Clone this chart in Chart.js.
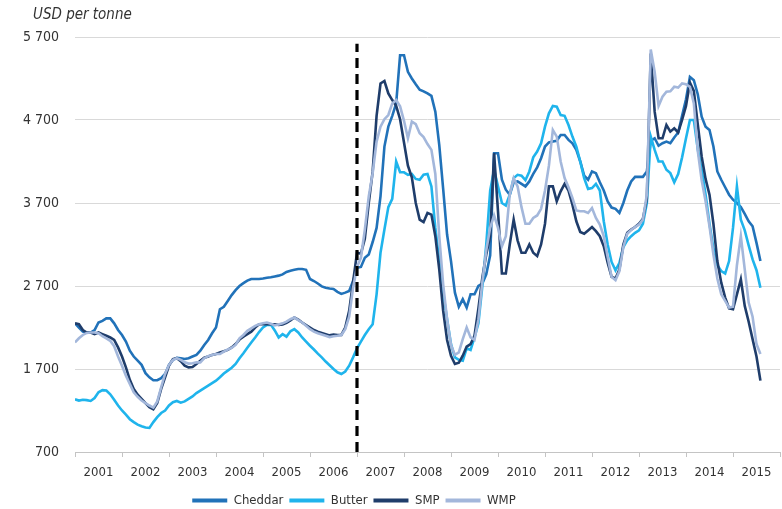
<!DOCTYPE html>
<html>
<head>
<meta charset="utf-8">
<script src="https://cdn.jsdelivr.net/npm/chart.js@4.4.0/dist/chart.umd.min.js"></script>
<style>
  html, body { margin: 0; padding: 0; background: #ffffff; }
  #wrap { width: 782px; height: 509px; }
</style>
</head>
<body>
<div id="wrap"><canvas id="c" width="782" height="509"></canvas></div>
<script>
// ---- Data (monthly, Jan 2001 – Aug 2015), USD per tonne ----
const startYear = 2001;
const seriesNames = ["Cheddar", "Butter", "SMP", "WMP"];
const yearTicks = ["2001","2002","2003","2004","2005","2006","2007","2008","2009","2010","2011","2012","2013","2014","2015"];
const dividerYear = 2007;   // dashed vertical marker
const dividerTop = 5620;

const cheddar = [
  2250,2200,2150,2140,2140,2170,2260,2280,2310,2310,2250,2170,
  2110,2030,1920,1850,1800,1750,1650,1600,1565,1565,1590,1640,
  1750,1810,1835,1830,1820,1830,1850,1870,1920,1990,2050,2130,
  2200,2420,2450,2520,2590,2650,2700,2735,2765,2785,2785,2785,
  2790,2800,2805,2815,2825,2840,2870,2885,2895,2905,2905,2895,
  2785,2760,2730,2695,2680,2670,2665,2630,2605,2620,2640,2760,
  2920,2930,3040,3080,3230,3400,3780,4380,4620,4750,4900,5480,
  5480,5280,5200,5130,5065,5045,5020,4990,4800,4400,3870,3320,
  3000,2620,2450,2540,2440,2600,2600,2700,2730,2840,3070,4300,
  4300,3980,3860,3800,3950,3960,3930,3900,3960,4050,4130,4240,
  4380,4430,4440,4450,4520,4520,4460,4420,4340,4200,4030,3980,
  4080,4060,3950,3850,3720,3645,3630,3580,3700,3850,3960,4015,
  4015,4015,4080,4450,4480,4390,4420,4440,4420,4490,4550,4750,
  4950,5220,5180,5010,4740,4620,4580,4380,4080,3980,3890,3800,
  3740,3700,3650,3570,3480,3420,3220,3000
];
const butter = [
  1335,1320,1330,1325,1315,1350,1420,1445,1440,1395,1330,1260,
  1200,1150,1095,1060,1030,1010,995,990,1060,1120,1170,1200,
  1260,1300,1315,1295,1310,1340,1370,1410,1440,1470,1500,1530,
  1560,1600,1645,1680,1715,1760,1830,1890,1955,2020,2080,2145,
  2200,2230,2235,2165,2080,2120,2090,2155,2180,2140,2080,2030,
  1980,1935,1885,1840,1790,1745,1700,1660,1640,1670,1740,1840,
  1950,2030,2110,2180,2240,2600,3100,3380,3650,3750,4200,4070,
  4070,4040,4050,3990,3980,4040,4050,3900,3400,3000,2620,2300,
  2000,1840,1810,1800,1950,1930,2080,2250,2700,3200,3850,4100,
  3900,3700,3670,3800,4000,4040,4030,3975,4080,4250,4320,4420,
  4620,4780,4870,4860,4760,4750,4640,4500,4380,4200,4000,3870,
  3880,3930,3850,3480,3200,2990,2890,2980,3170,3250,3300,3340,
  3370,3450,3700,4500,4340,4200,4200,4100,4060,3950,4050,4250,
  4480,4700,4700,4350,4100,3800,3450,3150,2950,2880,2850,3000,
  3400,3900,3500,3370,3190,3020,2890,2680
];
const smp = [
  2250,2240,2170,2140,2140,2120,2140,2120,2100,2080,2050,1960,
  1850,1720,1570,1460,1390,1340,1290,1240,1215,1290,1460,1600,
  1740,1820,1830,1795,1740,1720,1725,1760,1800,1835,1850,1870,
  1880,1900,1915,1930,1960,2000,2055,2090,2120,2150,2200,2240,
  2240,2240,2240,2240,2230,2235,2255,2285,2320,2295,2260,2230,
  2200,2170,2150,2135,2120,2105,2115,2110,2110,2200,2400,2750,
  3100,3090,3270,3700,4080,4750,5140,5170,5020,4940,4870,4710,
  4430,4150,4010,3700,3500,3470,3580,3560,3300,2900,2400,2050,
  1860,1760,1775,1860,1970,2000,2100,2430,2800,3080,3300,4300,
  3600,2850,2850,3200,3500,3250,3100,3100,3200,3100,3060,3200,
  3450,3900,3900,3720,3840,3930,3850,3680,3480,3350,3330,3370,
  3410,3360,3300,3180,2980,2810,2790,2900,3200,3340,3380,3410,
  3450,3510,3750,5500,4800,4480,4480,4640,4560,4600,4550,4700,
  4870,5150,5050,4650,4260,3990,3800,3450,3000,2740,2560,2430,
  2420,2600,2780,2460,2270,2060,1850,1560
];
const wmp = [
  2020,2070,2110,2135,2140,2140,2130,2095,2070,2040,1975,1850,
  1740,1620,1520,1420,1365,1320,1290,1260,1235,1310,1480,1640,
  1750,1810,1830,1810,1780,1765,1770,1780,1780,1830,1855,1870,
  1880,1880,1910,1935,1955,1990,2070,2110,2160,2190,2220,2240,
  2250,2260,2245,2225,2235,2250,2270,2300,2320,2290,2260,2220,
  2180,2150,2130,2115,2100,2085,2095,2100,2110,2180,2330,2680,
  2930,3040,3380,3780,4060,4440,4620,4710,4760,4900,4940,4865,
  4690,4480,4680,4650,4540,4495,4410,4340,4050,3300,2720,2300,
  1990,1870,1900,2060,2200,2080,2050,2300,2750,3130,3400,3550,
  3400,3180,3300,3800,4000,3900,3650,3450,3450,3520,3550,3630,
  3850,4150,4580,4500,4200,4000,3890,3760,3610,3600,3600,3580,
  3640,3520,3440,3300,3050,2810,2770,2880,3170,3330,3375,3410,
  3440,3500,3800,5550,5280,4870,4980,5040,5045,5100,5090,5140,
  5130,5100,4900,4330,3975,3720,3420,3080,2790,2600,2520,2440,
  2450,2950,3300,2900,2500,2330,2000,1880
];

// ---- build datasets ----
const colors = ["#2172b9", "#1fb4ec", "#1f3d6b", "#a3b7db"];
const values = [cheddar, butter, smp, wmp];
const drawOrder = [3, 2, 1, 0];
const toPoints = arr => arr.map((v, i) => ({ x: startYear + i / 12, y: v }));

const datasets = values.map((arr, i) => ({
  label: seriesNames[i],
  data: toPoints(arr),
  borderColor: colors[i],
  backgroundColor: colors[i],
  borderWidth: 2.6,
  pointRadius: 0,
  tension: 0,
  fill: false,
  order: drawOrder[i]
}));
datasets.push({
  label: "divider",
  data: [{ x: dividerYear, y: 700 }, { x: dividerYear, y: dividerTop }],
  borderColor: "#000000",
  borderWidth: 3.2,
  borderDash: [10, 6],
  pointRadius: 0,
  fill: false,
  order: -1
});

const FONT = "'Liberation Sans Narrow', 'DejaVu Sans Condensed', 'Open Sans', sans-serif";

const titlePlugin = {
  id: "unitTitle",
  afterLayout(chart) {
    // centre the legend row under the same point as the reference
    const lg = chart.legend;
    if (lg) { lg.left -= 36; lg.right -= 36; }
  },
  afterDraw(chart) {
    const ctx = chart.ctx;
    ctx.save();
    ctx.font = "italic 15px " + FONT;
    ctx.fillStyle = "#333333";
    ctx.textBaseline = "middle";
    ctx.textAlign = "left";
    ctx.fillText("USD per tonne", 33, 15);
    ctx.restore();
  }
};

const fmt = v => String(v).replace(/\B(?=(\d{3})+(?!\d))/g, " ");

new Chart(document.getElementById("c"), {
  type: "line",
  data: { datasets },
  plugins: [titlePlugin],
  options: {
    responsive: false,
    animation: false,
    devicePixelRatio: 1,
    layout: { padding: { left: 0, right: 2, top: 37, bottom: -8 } },
    plugins: {
      tooltip: { enabled: false },
      title: { display: false },
      legend: {
        display: true,
        position: "bottom",
        onClick: () => {},
        labels: {
          boxWidth: 35,
          boxHeight: 4,
          padding: 6,
          color: "#333333",
          font: { family: FONT, size: 13 },
          generateLabels: () => seriesNames.map((n, i) => ({
            text: n,
            fillStyle: colors[i],
            strokeStyle: colors[i],
            lineWidth: 0,
            hidden: false,
            datasetIndex: i,
            fontColor: "#333333"
          }))
        }
      }
    },
    scales: {
      x: {
        type: "linear",
        min: 2001,
        max: 2016,
        afterFit: s => { s.height = 36; s.paddingLeft = 0; s.paddingRight = 0; },
        afterBuildTicks: s => {
          s.ticks = [];
          for (let y = 2001; y <= 2016; y++) s.ticks.push({ value: y });
        },
        ticks: {
          autoSkip: false,
          maxRotation: 0,
          labelOffset: 23.5,
          padding: 8,
          color: "#333333",
          font: { family: FONT, size: 13 },
          callback: v => {
            const k = Math.round(v) - 2001;
            return k >= 0 && k < yearTicks.length ? yearTicks[k] : "";
          }
        },
        grid: {
          drawOnChartArea: false,
          drawTicks: true,
          tickLength: 5,
          color: "#c4c4c4"
        },
        border: { display: true, color: "#c4c4c4", width: 1 }
      },
      y: {
        min: 700,
        max: 5700,
        afterFit: s => { s.width = 75; },
        ticks: {
          stepSize: 1000,
          padding: 16,
          color: "#333333",
          font: { family: FONT, size: 14 },
          callback: v => fmt(v)
        },
        grid: { color: "#d9d9d9", lineWidth: 1, drawTicks: false },
        border: { display: false }
      }
    }
  }
});
</script>
</body>
</html>
